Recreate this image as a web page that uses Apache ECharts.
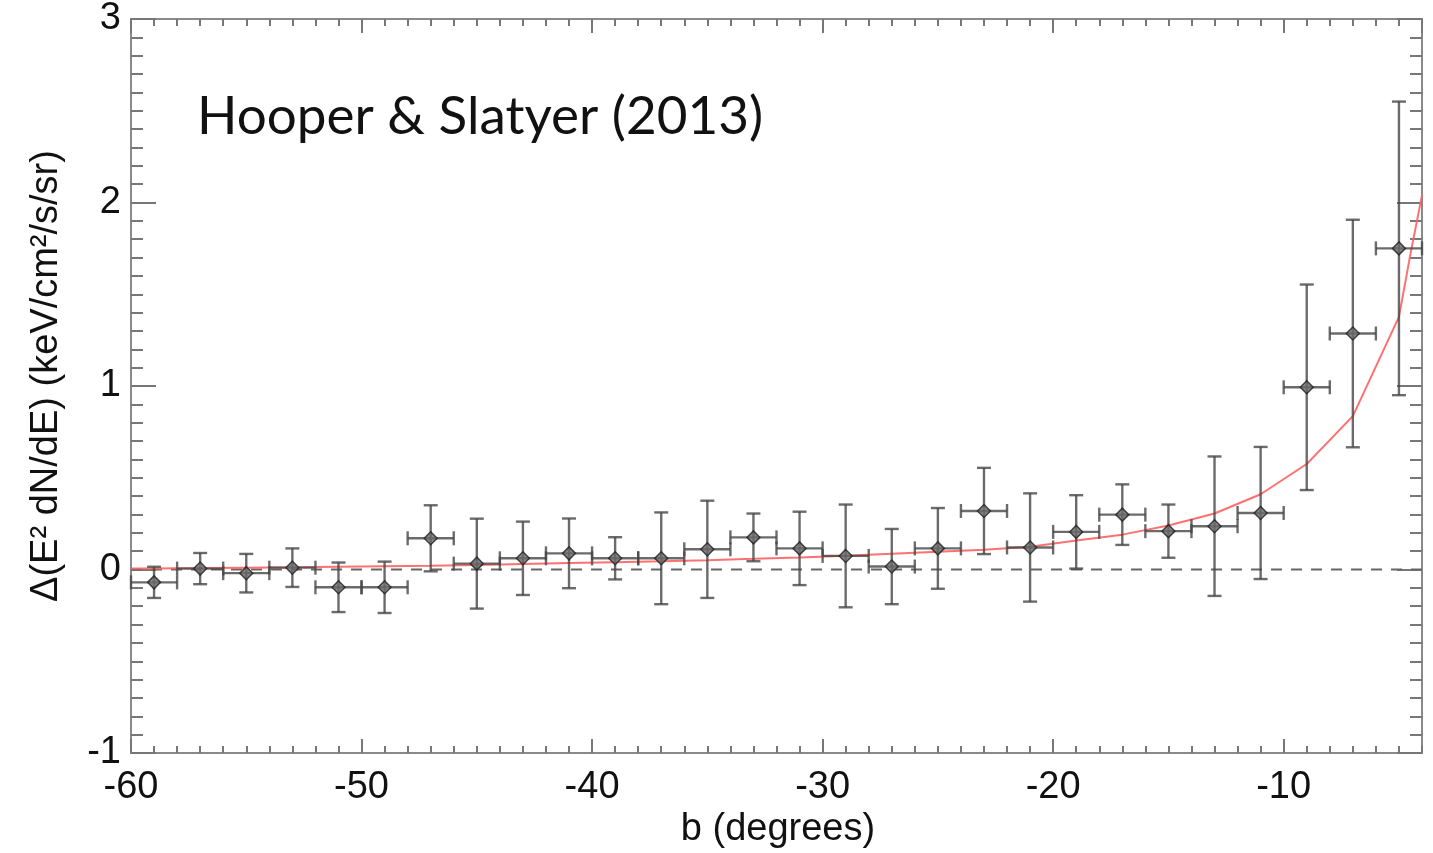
<!DOCTYPE html>
<html>
<head>
<meta charset="utf-8">
<script src="https://cdn.jsdelivr.net/npm/echarts@6/dist/echarts.min.js"></script>
<style>
html,body{margin:0;padding:0;background:#fff;}
#chart{width:1433px;height:853px;}
</style>
</head>
<body>
<div id="chart"></div>
<script>
// ---- data ----
const latitudes = [-59,-57,-55,-53,-51,-49,-47,-45,-43,-41,-39,-37,-35,-33,-31,-29,-27,-25,-23,-21,-19,-17,-15,-13,-11,-9,-7,-5];
const residuals = [-0.07,0.005,-0.02,0.01,-0.097,-0.097,0.17,0.032,0.061,0.088,0.061,0.061,0.11,0.175,0.115,0.074,0.016,0.115,0.319,0.12,0.205,0.299,0.209,0.236,0.308,0.993,1.286,1.75];
const errors = [0.085,0.085,0.105,0.105,0.135,0.14,0.18,0.245,0.2,0.19,0.115,0.25,0.265,0.13,0.2,0.28,0.205,0.22,0.235,0.295,0.2,0.165,0.145,0.38,0.36,0.56,0.62,0.8];
const binHalfWidth = 1;
const modelB = [-60,-59,-57,-55,-53,-51,-49,-47,-45,-43,-41,-39,-37,-35,-33,-31,-29,-27,-25,-23,-21,-19,-17,-15,-13,-11,-9,-7,-5,-4.5,-4];
const modelV = [0.005,0.006,0.008,0.01,0.012,0.015,0.018,0.021,0.025,0.03,0.035,0.04,0.045,0.051,0.058,0.066,0.075,0.086,0.097,0.108,0.124,0.158,0.19,0.24,0.305,0.41,0.575,0.836,1.377,1.72,2.04];
const xTicks = [-60,-50,-40,-30,-20,-10];
const yTicks = [-1,0,1,2,3];
const titleText = 'Hooper & Slatyer (2013)';
const xTitle = 'b (degrees)';
const yTitle = 'Δ(E² dN/dE) (keV/cm²/s/sr)';

const points = latitudes.map((b,i)=>[b,residuals[i],errors[i]]);
const modelData = modelB.map((b,i)=>[b,modelV[i]]);

const frameColor = '#8a8a8a';
const labelFont = 'Liberation Sans, Arial, Helvetica, sans-serif';

function mkX(pos, interval, len, labels){
  return {
    type:'value', min:-60, max:-4, interval:interval, position:pos,
    axisLine:{show:true, onZero:false, lineStyle:{color:frameColor,width:2}},
    axisTick:{show:true, inside:true, length:len, lineStyle:{color:'#777',width:2}},
    axisLabel:{show:labels, fontSize:38, color:'#111', fontFamily:labelFont, margin:16, showMaxLabel:false,
      formatter:v=> xTicks.indexOf(v)>=0 ? String(v) : ''},
    splitLine:{show:false}
  };
}
function mkY(pos, interval, len, labels){
  return {
    type:'value', min:-1, max:3, interval:interval, position:pos,
    axisLine:{show:true, onZero:false, lineStyle:{color:frameColor,width:2}},
    axisTick:{show:true, inside:true, length:len, lineStyle:{color:'#777',width:2}},
    axisLabel:{show:labels, fontSize:38, color:'#111', fontFamily:labelFont, margin:10,
      formatter:v=> yTicks.indexOf(v)>=0 ? String(v) : ''},
    splitLine:{show:false}
  };
}

const chart = echarts.init(document.getElementById('chart'));
chart.setOption({
  animation:false,
  backgroundColor:'#fff',
  grid:{left:131, right:11, top:13, bottom:100, containLabel:false},
  xAxis:[ mkX('bottom',10,14,true), mkX('bottom',1,7,false), mkX('top',10,14,false), mkX('top',1,7,false) ],
  yAxis:[ mkY('left',1,25,true), mkY('left',0.1,12,false), mkY('right',1,25,false), mkY('right',0.1,12,false) ],
  graphic:[
    {type:'text', left:197, top:90, style:{text:titleText, font:'400 53px Lato, "Open Sans", sans-serif', fill:'#111'}},
    {type:'text', x:47, y:376, rotation:Math.PI/2, style:{text:yTitle, font:'38px '+labelFont, fill:'#111', align:'center', verticalAlign:'middle'}},
    {type:'text', x:778, y:830, style:{text:xTitle, font:'38px '+labelFont, fill:'#111', align:'center', verticalAlign:'middle'}}
  ],
  series:[
    {
      type:'line', xAxisIndex:0, yAxisIndex:0, data:[[-60,0],[-4,0]], symbol:'none', silent:true,
      lineStyle:{color:'#666', width:2, type:[11,9]}, z:1
    },
    {
      type:'line', xAxisIndex:0, yAxisIndex:0, data:modelData, symbol:'none', smooth:false,
      lineStyle:{color:'#ff6262', width:2, opacity:0.9}, z:3
    },
    {
      type:'custom', xAxisIndex:0, yAxisIndex:0, data:points, z:4,
      renderItem:function(params, api){
        const b = api.value(0), v = api.value(1), e = api.value(2);
        const top = api.coord([b,v+e]);
        const bot = api.coord([b,v-e]);
        const l = api.coord([b-binHalfWidth,v]);
        const r = api.coord([b+binHalfWidth,v]);
        const cap = 7;
        const st = {stroke:'rgba(70,70,70,0.8)', lineWidth:2.4};
        const line = (x1,y1,x2,y2)=>({type:'line', shape:{x1,y1,x2,y2}, style:st});
        return {type:'group', children:[
          line(top[0],top[1],bot[0],bot[1]),
          line(top[0]-cap,top[1],top[0]+cap,top[1]),
          line(bot[0]-cap,bot[1],bot[0]+cap,bot[1]),
          line(l[0],l[1],r[0],r[1]),
          line(l[0],l[1]-cap,l[0],l[1]+cap),
          line(r[0],r[1]-cap,r[0],r[1]+cap)
        ]};
      }
    },
    {
      type:'scatter', xAxisIndex:0, yAxisIndex:0, data:points.map(p=>[p[0],p[1]]), symbol:'diamond', symbolSize:13,
      itemStyle:{color:'#6a6a6a', borderColor:'#222', borderWidth:1.5}, z:5
    }
  ]
});
</script>
</body>
</html>
